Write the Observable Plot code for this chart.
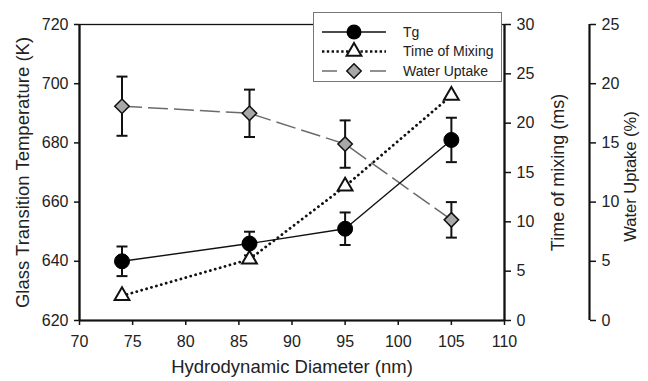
<!DOCTYPE html>
<html><head><meta charset="utf-8">
<script src="https://cdn.jsdelivr.net/npm/d3@7"></script>
<script src="https://cdn.jsdelivr.net/npm/@observablehq/plot@0.6"></script>
<style>
body{margin:0;background:#fff;font-family:"Liberation Sans",Arial,sans-serif}
#wrap{position:relative;width:648px;height:381px}
#legend{position:absolute;left:313px;top:12px;width:189px;height:70px;box-sizing:border-box;border:1px solid #777;background:#fff}
#legend svg{display:block}
</style></head><body><div id="wrap"><div id="legend"></div></div>
<script>
// ---- data ----
const diameter = [74, 86, 95, 105];          // nm
const tgK = [640, 646, 651, 681];            // K
const tgErr = [5, 4, 5.5, 7.5];
const mixingMs = [2.5, 6.2, 13.6, 22.8];     // ms
const waterPct = [18.1, 17.5, 14.9, 8.5];    // %
const waterErr = [2.5, 2, 2, 1.5];
const xTicks = [70, 75, 80, 85, 90, 95, 100, 105, 110];
const tgTicks = [620, 640, 660, 680, 700, 720];
const mixTicks = [0, 5, 10, 15, 20, 25, 30];
const waterTicks = [0, 5, 10, 15, 20, 25];
const seriesNames = ["Tg", "Time of Mixing", "Water Uptake"];

// secondary axes mapped onto the primary y scale
const yMin = 620, yMax = 720, mixMax = 30, waterMax = 25;
const fromMix = v => yMin + v / mixMax * (yMax - yMin);
const toMix = y => (y - yMin) / (yMax - yMin) * mixMax;
const fromWater = v => yMin + v / waterMax * (yMax - yMin);
const toWater = y => (y - yMin) / (yMax - yMin) * waterMax;

const rows = diameter.map((d, i) => ({
  d,
  tg: tgK[i], tgLo: tgK[i] - tgErr[i], tgHi: tgK[i] + tgErr[i],
  mix: fromMix(mixingMs[i]),
  water: fromWater(waterPct[i]),
  wLo: fromWater(waterPct[i] - waterErr[i]), wHi: fromWater(waterPct[i] + waterErr[i])
}));

const cap = {draw(ctx) { ctx.moveTo(-5.5, 0); ctx.lineTo(5.5, 0); }};
const ink = "#111";
const txt = "#222";

const plot = Plot.plot({
  width: 648, height: 381,
  marginLeft: 79, marginRight: 144, marginTop: 24, marginBottom: 61,
  style: {fontFamily: "'Liberation Sans', Arial, sans-serif", fontSize: "16px", color: txt, background: "white", overflow: "visible"},
  x: {domain: [70, 110]},
  y: {domain: [yMin, yMax]},
  marks: [
    Plot.frame({stroke: ink, strokeWidth: 1.3}),
    Plot.axisX({ticks: xTicks, tickSize: 5, tickPadding: 10, label: null, stroke: ink, strokeWidth: 1.5}),
    Plot.axisY({anchor: "left", ticks: tgTicks, tickSize: 5, tickPadding: 6, label: null, stroke: ink, strokeWidth: 1.5}),
    Plot.axisY({anchor: "right", ticks: mixTicks.map(fromMix), tickFormat: y => Math.round(toMix(y)), tickSize: 6, tickPadding: 6, label: null, stroke: ink, strokeWidth: 1.5}),
    Plot.axisY({anchor: "right", ticks: waterTicks.map(fromWater), tickFormat: y => Math.round(toWater(y)), tickSize: 6, tickPadding: 6, label: null, dx: 85, stroke: ink, strokeWidth: 1.5}),
    Plot.ruleX([70], {stroke: ink, strokeWidth: 2.2}),
    Plot.ruleX([110], {stroke: ink, strokeWidth: 2.2}),
    Plot.ruleY([620], {stroke: ink, strokeWidth: 2.2}),
    Plot.ruleX([110], {dx: 85, stroke: ink, strokeWidth: 2.2}),
    Plot.text(["Hydrodynamic Diameter (nm)"], {frameAnchor: "bottom", textAnchor: "middle", dy: 52, fontSize: 18.5, fill: txt}),
    Plot.text(["Glass Transition Temperature (K)"], {frameAnchor: "left", textAnchor: "middle", rotate: -90, dx: -56, fontSize: 18.5, fill: txt}),
    Plot.text(["Time of mixing (ms)"], {frameAnchor: "right", textAnchor: "middle", rotate: -90, dx: 54, fontSize: 18, fill: txt}),
    Plot.text(["Water Uptake (%)"], {frameAnchor: "right", textAnchor: "middle", rotate: -90, dx: 126, dy: 4, fontSize: 16.5, fill: txt}),
    // lines
    Plot.line(rows, {x: "d", y: "water", stroke: "#6b6b6b", strokeWidth: 1.5, strokeDasharray: "20,6", strokeLinecap: "butt"}),
    Plot.line(rows, {x: "d", y: "mix", stroke: ink, strokeWidth: 2.8, strokeDasharray: "0.1,5", strokeLinecap: "round"}),
    Plot.line(rows, {x: "d", y: "tg", stroke: ink, strokeWidth: 1.4}),
    // error bars
    Plot.ruleX(rows, {x: "d", y1: "tgLo", y2: "tgHi", stroke: ink, strokeWidth: 2}),
    Plot.dot(rows, {x: "d", y: "tgLo", symbol: cap, stroke: ink, strokeWidth: 2}),
    Plot.dot(rows, {x: "d", y: "tgHi", symbol: cap, stroke: ink, strokeWidth: 2}),
    Plot.ruleX(rows, {x: "d", y1: "wLo", y2: "wHi", stroke: ink, strokeWidth: 2}),
    Plot.dot(rows, {x: "d", y: "wLo", symbol: cap, stroke: ink, strokeWidth: 2}),
    Plot.dot(rows, {x: "d", y: "wHi", symbol: cap, stroke: ink, strokeWidth: 2}),
    // markers
    Plot.dot(rows, {x: "d", y: "water", symbol: "diamond2", r: 6.5, fill: "#a8a8a8", stroke: ink, strokeWidth: 1.5}),
    Plot.dot(rows, {x: "d", y: "mix", symbol: "triangle", r: 5.5, fill: "white", stroke: ink, strokeWidth: 2}),
    Plot.dot(rows, {x: "d", y: "tg", r: 7.5, fill: "#000", stroke: "#000", strokeWidth: 1})
  ]
});
document.getElementById("wrap").insertBefore(plot, document.getElementById("legend"));

// legend
const lg = d3.select("#legend").append("svg").attr("width", 187).attr("height", 68);
const rowY = [19, 38.5, 58];
// Tg
lg.append("line").attr("x1", 8).attr("x2", 72).attr("y1", rowY[0]).attr("y2", rowY[0]).attr("stroke", ink).attr("stroke-width", 1.5);
lg.append("circle").attr("cx", 40).attr("cy", rowY[0]).attr("r", 7.5).attr("fill", "#000");
// mixing
lg.append("line").attr("x1", 8).attr("x2", 72).attr("y1", rowY[1]).attr("y2", rowY[1]).attr("stroke", ink).attr("stroke-width", 2.4).attr("stroke-dasharray", "2.4,2.4");
lg.append("path").attr("transform", `translate(40,${rowY[1]})`).attr("d", d3.symbol(d3.symbolTriangle, 5.5 * 5.5 * Math.PI)()).attr("fill", "white").attr("stroke", ink).attr("stroke-width", 2);
// water
lg.append("line").attr("x1", 8).attr("x2", 23).attr("y1", rowY[2]).attr("y2", rowY[2]).attr("stroke", "#6b6b6b").attr("stroke-width", 1.5);
lg.append("line").attr("x1", 56).attr("x2", 72).attr("y1", rowY[2]).attr("y2", rowY[2]).attr("stroke", "#6b6b6b").attr("stroke-width", 1.5);
lg.append("path").attr("transform", `translate(40,${rowY[2]})`).attr("d", d3.symbol(d3.symbolDiamond2, 6.5 * 6.5 * Math.PI)()).attr("fill", "#a8a8a8").attr("stroke", ink).attr("stroke-width", 1.5);
lg.selectAll("text.lab").data(seriesNames).join("text").attr("class", "lab")
  .attr("x", 89).attr("y", (d, i) => rowY[i]).attr("dy", "0.35em")
  .attr("font-size", 14).attr("fill", txt).attr("font-family", "'Liberation Sans', Arial, sans-serif").text(d => d);
</script>
</body></html>
